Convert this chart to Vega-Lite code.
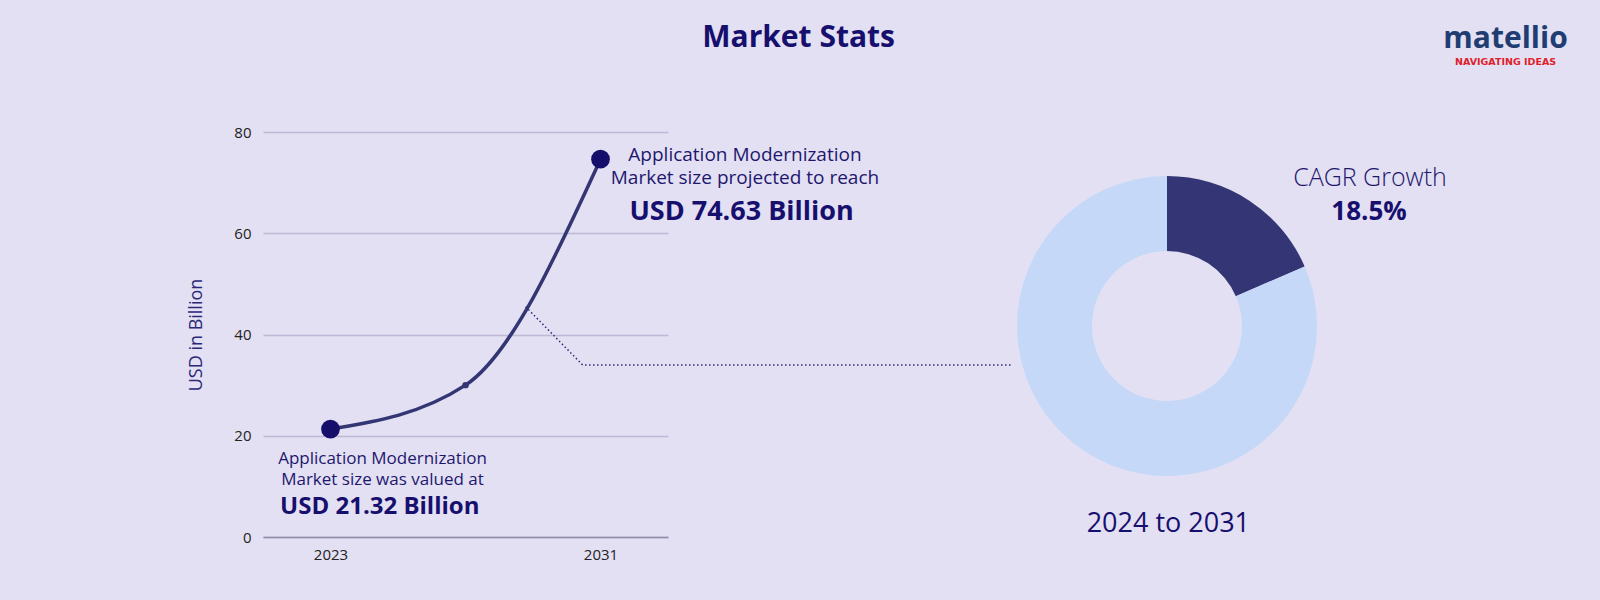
{
  "$schema": "https://vega.github.io/schema/vega-lite/v6.json",
  "autosize": {"type": "none"},
  "padding": {"left": 263, "top": 132, "right": 1337, "bottom": 468},
  "background": "#e3e0f3",
  "bounds": "flush",
  "spacing": 349,
  "config": {"view": {"stroke": null}, "font": "Open Sans"},
  "datasets": {
    "curve": [
      {"year": 2023, "value": 21.32, "kind": "end"},
      {"year": 2027, "value": 30, "kind": "mid"},
      {"year": 2031, "value": 74.63, "kind": "end"}
    ],
    "connector": [
      {"year": 2028.78, "value": 45.5},
      {"year": 2030.47, "value": 33.98},
      {"year": 2043.2, "value": 33.98}
    ],
    "notes": [
      {"year": 2036.87, "value": 96.85, "text": "Market Stats", "role": "title"},
      {"year": 2035.28, "value": 74.27, "text": "Application Modernization", "role": "lead"},
      {"year": 2035.28, "value": 69.67, "text": "Market size projected to reach", "role": "lead"},
      {"year": 2035.18, "value": 62.62, "text": "USD 74.63 Billion", "role": "headline"},
      {"year": 2024.54, "value": 14.36, "text": "Application Modernization", "role": "leadSmall"},
      {"year": 2024.54, "value": 10.27, "text": "Market size was valued at", "role": "leadSmall"},
      {"year": 2024.46, "value": 4.48, "text": "USD 21.32 Billion", "role": "headlineSmall"}
    ],
    "share": [
      {"segment": "CAGR Growth", "share": 18.5},
      {"segment": "Rest", "share": 81.5}
    ],
    "donutText": [
      {"x": 1.353, "y": 0.93, "text": "CAGR Growth", "role": "label"},
      {"x": 1.347, "y": 0.707, "text": "18.5%", "role": "value"},
      {"x": 0.009, "y": -1.371, "text": "2024 to 2031", "role": "period"},
      {"x": 2.257, "y": 1.85, "text": "matellio", "role": "logo"},
      {"x": 2.257, "y": 1.74, "text": "NAVIGATING IDEAS", "role": "tagline"}
    ]
  },
  "hconcat": [
    {
      "width": 405,
      "height": 405,
      "encoding": {
        "x": {
          "field": "year", "type": "quantitative",
          "scale": {"domain": [2021, 2033], "nice": false, "zero": false},
          "axis": {"values": [2023, 2031], "format": "d", "grid": false, "ticks": false,
                   "domainColor": "#8e8ca5", "domainWidth": 1.5, "labelPadding": 10,
                   "labelFontSize": 15, "labelColor": "#222222", "title": null}
        },
        "y": {
          "field": "value", "type": "quantitative",
          "scale": {"domain": [0, 80], "nice": false},
          "axis": {"values": [0, 20, 40, 60, 80], "grid": true, "gridColor": "#bdb9d6", "gridWidth": 1.5,
                   "domain": false, "ticks": false, "labelPadding": 12, "labelFontSize": 15,
                   "labelColor": "#222222", "title": "USD in Billion", "titleColor": "#2b2878",
                   "titleFontSize": 18, "titleFontWeight": "normal", "titlePadding": 28}
        }
      },
      "layer": [
        {
          "data": {"name": "curve"},
          "mark": {"type": "line", "interpolate": "monotone", "color": "#343674", "strokeWidth": 3.5}
        },
        {
          "data": {"name": "curve"},
          "transform": [{"filter": "datum.kind === 'end'"}],
          "mark": {"type": "circle", "size": 350, "color": "#150f6b", "opacity": 1}
        },
        {
          "data": {"name": "curve"},
          "transform": [{"filter": "datum.kind === 'mid'"}],
          "mark": {"type": "circle", "size": 42, "color": "#343674", "opacity": 1}
        },
        {
          "data": {"name": "connector"},
          "mark": {"type": "line", "color": "#2b2878", "strokeWidth": 1.5, "strokeDash": [1.5, 2.5], "clip": false}
        },
        {
          "data": {"name": "notes"},
          "transform": [{"filter": "datum.role === 'title'"}],
          "mark": {"type": "text", "align": "center", "baseline": "alphabetic", "fontSize": 30, "fontWeight": "bold", "color": "#170f6e"},
          "encoding": {"text": {"field": "text"}}
        },
        {
          "data": {"name": "notes"},
          "transform": [{"filter": "datum.role === 'lead'"}],
          "mark": {"type": "text", "align": "center", "baseline": "alphabetic", "fontSize": 19, "color": "#1e176e"},
          "encoding": {"text": {"field": "text"}}
        },
        {
          "data": {"name": "notes"},
          "transform": [{"filter": "datum.role === 'headline'"}],
          "mark": {"type": "text", "align": "center", "baseline": "alphabetic", "fontSize": 27, "fontWeight": "bold", "color": "#170f6e"},
          "encoding": {"text": {"field": "text"}}
        },
        {
          "data": {"name": "notes"},
          "transform": [{"filter": "datum.role === 'leadSmall'"}],
          "mark": {"type": "text", "align": "center", "baseline": "alphabetic", "fontSize": 17, "color": "#1e176e"},
          "encoding": {"text": {"field": "text"}}
        },
        {
          "data": {"name": "notes"},
          "transform": [{"filter": "datum.role === 'headlineSmall'"}],
          "mark": {"type": "text", "align": "center", "baseline": "alphabetic", "fontSize": 24, "fontWeight": "bold", "color": "#170f6e"},
          "encoding": {"text": {"field": "text"}}
        }
      ]
    },
    {
      "width": 300,
      "height": 388,
      "layer": [
        {
          "data": {"name": "share"},
          "mark": {"type": "arc", "innerRadius": 75, "outerRadius": 150},
          "encoding": {
            "theta": {"field": "share", "type": "quantitative", "stack": true},
            "color": {"field": "segment", "type": "nominal",
                      "scale": {"domain": ["CAGR Growth", "Rest"], "range": ["#333575", "#c6d8f8"]},
                      "legend": null},
            "order": {"field": "segment"}
          }
        },
        {
          "data": {"name": "donutText"},
          "encoding": {
            "x": {"field": "x", "type": "quantitative", "scale": {"domain": [-1, 1], "nice": false, "zero": false}, "axis": null},
            "y": {"field": "y", "type": "quantitative", "scale": {"domain": [-1.29333, 1.29333], "nice": false, "zero": false}, "axis": null},
            "text": {"field": "text"}
          },
          "layer": [
            {
              "transform": [{"filter": "datum.role === 'label'"}],
              "mark": {"type": "text", "align": "center", "baseline": "alphabetic", "fontSize": 25, "fontWeight": 300, "color": "#1e176e"}
            },
            {
              "transform": [{"filter": "datum.role === 'value'"}],
              "mark": {"type": "text", "align": "center", "baseline": "alphabetic", "fontSize": 26, "fontWeight": "bold", "color": "#170f6e"}
            },
            {
              "transform": [{"filter": "datum.role === 'period'"}],
              "mark": {"type": "text", "align": "center", "baseline": "alphabetic", "fontSize": 27, "color": "#170f6e"}
            },
            {
              "transform": [{"filter": "datum.role === 'logo'"}],
              "mark": {"type": "text", "align": "center", "baseline": "alphabetic", "fontSize": 30, "fontWeight": "bold", "color": "#1f3d72"}
            },
            {
              "transform": [{"filter": "datum.role === 'tagline'"}],
              "mark": {"type": "text", "align": "center", "baseline": "alphabetic", "font": "DejaVu Sans", "fontSize": 9.5, "fontWeight": "bold", "color": "#e0202a"}
            }
          ]
        }
      ]
    }
  ]
}
